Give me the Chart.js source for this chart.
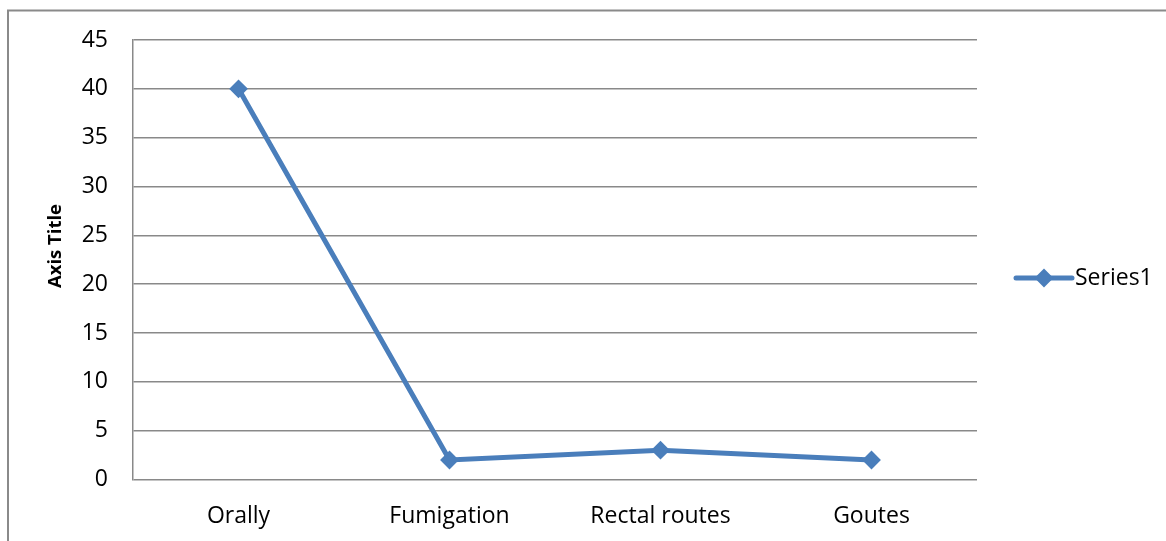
<!DOCTYPE html>
<html>
<head>
<meta charset="utf-8">
<title>Series1</title>
<script src="https://cdn.jsdelivr.net/npm/chart.js@4.4.1/dist/chart.umd.min.js"></script>
<style>
  html, body { margin: 0; padding: 0; background: #ffffff; overflow: hidden; }
  #wrap { position: relative; width: 1166px; height: 541px; }
</style>
</head>
<body>
<div id="wrap"><canvas id="chart" width="1166" height="541"></canvas></div>
<script>
// Routes of administration
const categories = ['Orally', 'Fumigation', 'Rectal routes', 'Goutes'];
const series1 = [40, 2, 3, 2];
const seriesName = 'Series1';
const yTicks = [0, 5, 10, 15, 20, 25, 30, 35, 40, 45];
const yTitle = 'Axis Title';

const FONT = '"Open Sans", "DejaVu Sans", sans-serif';
const LINE_BLUE = '#4A7EBB';
const GRID_GRAY = '#898989';

// Outer frame, vertical axis title and the line-with-marker legend
const decorations = {
  id: 'decorations',
  beforeDraw(chart) {
    const ctx = chart.ctx;
    ctx.save();
    ctx.strokeStyle = '#8a8a8a';
    ctx.lineWidth = 2;
    ctx.strokeRect(8, 10.5, 1400, 800);
    ctx.restore();
  },
  afterDraw(chart) {
    const ctx = chart.ctx;
    const area = chart.chartArea;
    // axis title
    ctx.save();
    ctx.translate(56, 246);
    ctx.rotate(-Math.PI / 2);
    ctx.fillStyle = '#000000';
    ctx.font = 'bold 18.5px ' + FONT;
    ctx.textAlign = 'center';
    ctx.textBaseline = 'middle';
    ctx.fillText(yTitle, 0, 0);
    ctx.restore();

    // legend
    const ds = chart.data.datasets[0];
    const lx = area.right + 39;
    const ly = 278;
    ctx.save();
    ctx.strokeStyle = ds.borderColor;
    ctx.lineWidth = ds.borderWidth;
    ctx.lineCap = 'round';
    ctx.beginPath();
    ctx.moveTo(lx, ly);
    ctx.lineTo(lx + 56, ly);
    ctx.stroke();
    ctx.fillStyle = ds.pointBackgroundColor;
    ctx.strokeStyle = ds.pointBorderColor;
    ctx.lineWidth = ds.pointBorderWidth;
    ctx.beginPath();
    ctx.moveTo(lx + 28 - ds.pointRadius, ly);
    ctx.lineTo(lx + 28, ly - ds.pointRadius);
    ctx.lineTo(lx + 28 + ds.pointRadius, ly);
    ctx.lineTo(lx + 28, ly + ds.pointRadius);
    ctx.closePath();
    ctx.fill();
    ctx.stroke();
    ctx.fillStyle = '#000000';
    ctx.font = '23px ' + FONT;
    ctx.textAlign = 'left';
    ctx.textBaseline = 'middle';
    ctx.fillText(ds.label, lx + 59, ly);
    ctx.restore();
  }
};

function build() {
  new Chart(document.getElementById('chart'), {
    type: 'line',
    data: {
      labels: categories,
      datasets: [{
        label: seriesName,
        data: series1,
        borderColor: LINE_BLUE,
        backgroundColor: LINE_BLUE,
        borderWidth: 5,
        pointStyle: 'rectRot',
        pointRadius: 8,
        pointBorderWidth: 2,
        pointBackgroundColor: LINE_BLUE,
        pointBorderColor: LINE_BLUE,
        tension: 0,
        fill: false
      }]
    },
    options: {
      responsive: false,
      animation: false,
      layout: { padding: { left: 0, top: 40, right: 189, bottom: 0 } },
      plugins: {
        legend: { display: false },
        tooltip: { enabled: false },
        title: { display: false }
      },
      scales: {
        x: {
          type: 'category',
          offset: true,
          grid: { display: false, drawTicks: false },
          border: { display: false },
          ticks: {
            color: '#000000',
            font: { family: FONT, size: 23 },
            padding: 23,
            maxRotation: 0,
            autoSkip: false
          },
          afterFit(scale) { scale.height = 61.5; }
        },
        y: {
          min: 0,
          max: 45,
          afterBuildTicks(scale) { scale.ticks = yTicks.map(v => ({ value: v })); },
          grid: { color: GRID_GRAY, lineWidth: 1.5, drawTicks: false },
          border: { display: true, color: GRID_GRAY, width: 1.5 },
          ticks: {
            color: '#000000',
            font: { family: FONT, size: 23 },
            padding: 25
          },
          afterFit(scale) { scale.width = 133; }
        }
      }
    },
    plugins: [decorations]
  });
}

Promise.all([
  document.fonts.load('23px "Open Sans"'),
  document.fonts.load('bold 18.5px "Open Sans"')
]).then(build, build);
</script>
</body>
</html>
